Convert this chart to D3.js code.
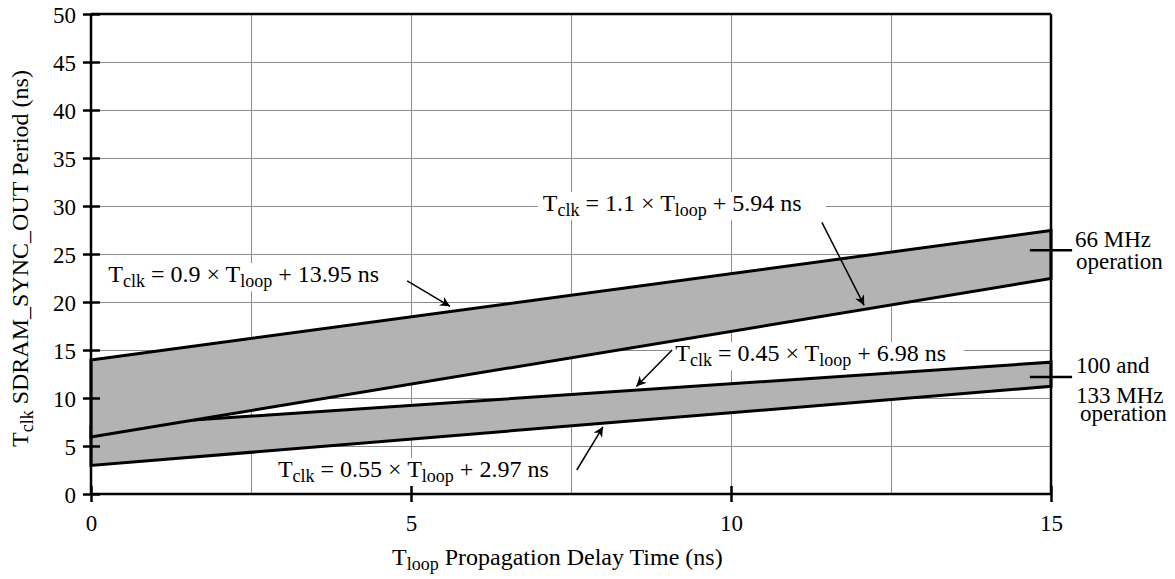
<!DOCTYPE html>
<html>
<head>
<meta charset="utf-8">
<script src="https://cdn.jsdelivr.net/npm/d3@7"></script>
<style>
  body { margin: 0; background: #fff; }
  svg { display: block; font-family: "Liberation Serif", "Times New Roman", serif; }
  .grid line { stroke: #8c8c8c; stroke-width: 1; shape-rendering: crispEdges; }
  .axis path { display: none; }
  .axis line { stroke: #000; stroke-width: 2.5; }
  .axis text { font-family: "Liberation Serif", serif; font-size: 23px; fill: #000; }
  .frame { stroke: #000; stroke-width: 2.5; fill: none; }
  .band { fill: #b3b3b3; stroke: #000; stroke-width: 3; stroke-linejoin: miter; }
  .note { font-size: 24px; fill: #000; }
  .arrow { stroke: #000; stroke-width: 1.5; fill: none; }
</style>
</head>
<body>
<svg width="1175" height="579"></svg>
<script>
// axis values
var xTicks = [0, 5, 10, 15];
var xGrid = [2.5, 5, 7.5, 10, 12.5];
var yTicks = [0, 5, 10, 15, 20, 25, 30, 35, 40, 45, 50];
var yGrid = [5, 10, 15, 20, 25, 30, 35, 40, 45];

// band edges (ns) at tloop = 0 and 15
var tloop = [0, 15];
var upper66 = [13.95, 27.45];
var lower66 = [5.94, 22.44];
var upper100 = [6.98, 13.73];
var lower100 = [2.97, 11.22];

// equation labels: text pieces, anchor (tloop, ns), arrow tail and tip
var noteCoef = ["0.9", "1.1", "0.45", "0.55"];
var noteConst = ["13.95", "5.94", "6.98", "2.97"];
var noteAt = [[0.27, 22.08], [7.06, 29.48], [9.13, 13.85], [2.92, 1.77]];
var arrowTail = [[4.94, 22.2], [11.42, 28.3], [9.08, 15.0], [7.59, 2.5]];
var arrowTip = [[5.61, 19.55], [12.08, 19.65], [8.52, 11.2], [8.0, 7.0]];
var notePadRight = [10, 24, 18, 8];

// operating-range markers at the right
var markerY = [25.4, 12.2];
var markerText = [["66 MHz", "operation"], ["100 and", "133 MHz", "operation"]];

var svg = d3.select("svg");

var x = d3.scaleLinear().domain([0, 15]).range([91, 1051]),
    y = d3.scaleLinear().domain([0, 50]).range([494, 14]);

var defs = svg.append("defs");
defs.append("marker")
    .attr("id", "head")
    .attr("viewBox", "0 0 10 10")
    .attr("refX", 10)
    .attr("refY", 5)
    .attr("markerWidth", 15)
    .attr("markerHeight", 10)
    .attr("markerUnits", "userSpaceOnUse")
    .attr("orient", "auto")
  .append("path")
    .attr("d", "M0,0 L10,5 L0,10 L3,5 Z")
    .attr("fill", "#000");

// grid
var grid = svg.append("g").attr("class", "grid");
grid.selectAll(".gx").data(xGrid).enter().append("line")
    .attr("x1", function(d) { return x(d); })
    .attr("x2", function(d) { return x(d); })
    .attr("y1", y(0))
    .attr("y2", y(50));
grid.selectAll(".gy").data(yGrid).enter().append("line")
    .attr("x1", x(0))
    .attr("x2", x(15))
    .attr("y1", function(d) { return y(d); })
    .attr("y2", function(d) { return y(d); });

// white boxes behind the equations sit above the grid, under the bands
var boxLayer = svg.append("g");

// bands: 100/133 first, 66 MHz drawn over it
var bands = [[upper100, lower100], [upper66, lower66]];
var area = d3.area()
    .x(function(d, i) { return x(tloop[i]); });

bands.forEach(function(b) {
  area.y0(function(d, i) { return y(b[1][i]); })
      .y1(function(d, i) { return y(b[0][i]); });
  svg.append("path")
      .datum(tloop)
      .attr("class", "band")
      .attr("d", area);
});

// frame
svg.append("line").attr("class", "frame")
    .attr("x1", x(0)).attr("x2", x(15)).attr("y1", y(50)).attr("y2", y(50));
svg.append("line").attr("class", "frame")
    .attr("x1", x(15)).attr("x2", x(15)).attr("y1", y(50)).attr("y2", y(0));
svg.append("line").attr("class", "frame")
    .attr("x1", x(0)).attr("x2", x(0)).attr("y1", y(50)).attr("y2", y(0));
svg.append("line").attr("class", "frame")
    .attr("x1", x(0)).attr("x2", x(15)).attr("y1", y(0)).attr("y2", y(0));

// axes
var xAxis = d3.axisBottom(x).tickValues(xTicks).tickSize(8).tickPadding(13)
    .tickFormat(d3.format("d"));
var yAxis = d3.axisLeft(y).tickValues(yTicks).tickSize(8).tickPadding(7)
    .tickFormat(d3.format("d"));

var gx = svg.append("g")
    .attr("class", "axis")
    .attr("transform", "translate(0," + y(0) + ")")
    .call(xAxis);
gx.selectAll(".tick line").attr("y1", -8);

var gy = svg.append("g")
    .attr("class", "axis")
    .attr("transform", "translate(" + x(0) + ",0)")
    .call(yAxis);
gy.selectAll(".tick line").attr("x1", 9);
gy.selectAll(".tick text").attr("dy", "0.36em");

// subscripted text helper
function tclk(sel, size, sub, parts) {
  parts.forEach(function(p) {
    var t = sel.append("tspan").text(p[0]);
    if (p[1] === 1) {
      t.attr("font-size", sub).attr("dy", size * 0.22);
    } else if (p[1] === -1) {
      t.attr("dy", -size * 0.22);
    }
  });
}

// axis titles
var xt = svg.append("text")
    .attr("x", 392)
    .attr("y", 565)
    .attr("font-size", 24);
tclk(xt, 24, 18, [["T", 0], ["loop", 1], [" Propagation Delay Time (ns)", -1]]);

var yt = svg.append("text")
    .attr("transform", "translate(28,447) rotate(-90)")
    .attr("font-size", 24);
tclk(yt, 24, 18, [["T", 0], ["clk", 1], [" SDRAM_SYNC_OUT Period (ns)", -1]]);

// equation labels
noteAt.forEach(function(p, i) {
  var t = svg.append("text")
      .attr("class", "note")
      .attr("x", x(p[0]))
      .attr("y", y(p[1]));
  tclk(t, 24, 18, [["T", 0], ["clk", 1], [" = " + noteCoef[i] + " \u00d7 T", -1],
                   ["loop", 1], [" + " + noteConst[i] + " ns", -1]]);
  var bb = t.node().getBBox();
  boxLayer.append("rect")
      .attr("fill", "#fff")
      .attr("x", bb.x - 5)
      .attr("y", bb.y + 2)
      .attr("width", bb.width + 5 + notePadRight[i])
      .attr("height", bb.height - 2);
});

// arrows
arrowTail.forEach(function(a, i) {
  svg.append("line")
      .attr("class", "arrow")
      .attr("x1", x(a[0]))
      .attr("y1", y(a[1]))
      .attr("x2", x(arrowTip[i][0]))
      .attr("y2", y(arrowTip[i][1]))
      .attr("marker-end", "url(#head)");
});

// right markers
markerY.forEach(function(v) {
  svg.append("line")
      .attr("x1", x(14.67))
      .attr("x2", x(15.33))
      .attr("y1", y(v))
      .attr("y2", y(v))
      .attr("stroke", "#000")
      .attr("stroke-width", 2.5);
});

var rightLines = [[1075, 247], [1076, 269], [1076, 373], [1076, 403], [1080, 421]];
var flat = [].concat(markerText[0], markerText[1]);
flat.forEach(function(s, i) {
  svg.append("text")
      .attr("x", rightLines[i][0])
      .attr("y", rightLines[i][1])
      .attr("font-size", 23)
      .text(s);
});
</script>
</body>
</html>
